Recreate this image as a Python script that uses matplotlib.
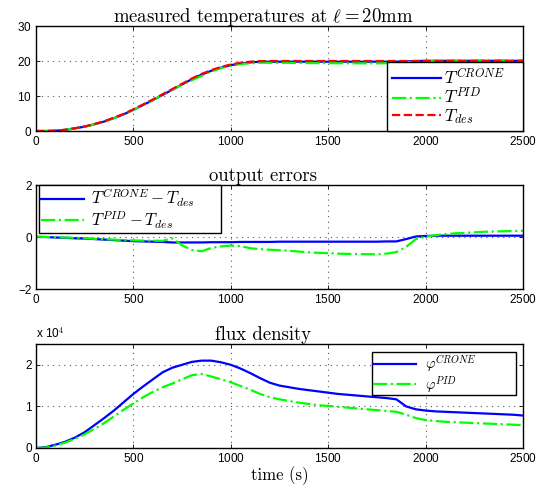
import matplotlib
matplotlib.use("Agg")
import matplotlib.pyplot as plt
from matplotlib.ticker import FuncFormatter

# ---------------- data ----------------
t = [0, 50, 100, 150, 200, 250, 300, 350, 400, 450, 500, 550, 600, 650, 700,
     750, 800, 850, 900, 950, 1000, 1050, 1100, 1150, 1200, 1250, 1300, 1350,
     1400, 1450, 1500, 1550, 1600, 1650, 1700, 1750, 1800, 1850, 1900, 1950,
     2000, 2050, 2100, 2150, 2200, 2250, 2300, 2350, 2400, 2450, 2500]

T_des = [0, 0, 0.1, 0.35, 0.8, 1.3, 2.0, 2.8, 3.8, 4.9, 6.2, 7.6, 9.0, 10.5, 12.0,
         13.5, 15.0, 16.3, 17.4, 18.3, 19.0, 19.5, 19.8, 19.95, 20.0, 20.0, 20.0, 20.0,
         20.0, 20.0, 20.0, 20.0, 20.0, 20.0, 20.0, 20.0, 20.0, 20.0, 20.0, 20.0,
         20.0, 20.0, 20.0, 20.0, 20.0, 20.0, 20.0, 20.0, 20.0, 20.0, 20.0]

T_crone = [0, 0, 0.08, 0.32, 0.75, 1.24, 1.92, 2.7, 3.68, 4.76, 6.04, 7.43, 8.82, 10.3, 11.8,
           13.3, 14.8, 16.1, 17.2, 18.1, 18.8, 19.3, 19.6, 19.8, 19.8, 19.8, 19.8, 19.8,
           19.8, 19.8, 19.8, 19.8, 19.8, 19.8, 19.8, 19.8, 19.8, 19.8, 19.9, 20.0,
           20.05, 20.05, 20.05, 20.05, 20.05, 20.05, 20.05, 20.05, 20.05, 20.05, 20.05]

T_pid = [0, 0, 0.09, 0.33, 0.77, 1.25, 1.93, 2.71, 3.7, 4.78, 6.07, 7.46, 8.86, 10.35, 11.9,
         13.2, 14.5, 15.75, 17.0, 17.95, 18.65, 19.15, 19.35, 19.5, 19.5, 19.5, 19.47, 19.44,
         19.41, 19.39, 19.38, 19.36, 19.35, 19.34, 19.34, 19.33, 19.36, 19.42, 19.62, 19.92,
         20.01, 20.07, 20.11, 20.14, 20.16, 20.18, 20.2, 20.21, 20.22, 20.23, 20.24]

err_crone = [0, 0, -0.02, -0.03, -0.05, -0.06, -0.08, -0.1, -0.12, -0.14, -0.16, -0.17, -0.18, -0.19, -0.21,
             -0.21, -0.21, -0.21, -0.2, -0.2, -0.2, -0.19, -0.19, -0.19, -0.19, -0.18, -0.18, -0.18,
             -0.18, -0.18, -0.18, -0.18, -0.18, -0.18, -0.18, -0.18, -0.17, -0.17, -0.08, 0.02,
             0.04, 0.05, 0.05, 0.05, 0.05, 0.05, 0.05, 0.05, 0.05, 0.05, 0.05]

err_pid = [0.02, 0.0, -0.01, -0.02, -0.03, -0.05, -0.07, -0.09, -0.1, -0.12, -0.13, -0.14, -0.14, -0.15, -0.05,
           -0.32, -0.5, -0.55, -0.42, -0.36, -0.33, -0.35, -0.43, -0.47, -0.49, -0.51, -0.53, -0.56,
           -0.59, -0.61, -0.62, -0.64, -0.65, -0.66, -0.66, -0.67, -0.64, -0.58, -0.38, -0.08,
           0.01, 0.07, 0.11, 0.14, 0.16, 0.18, 0.2, 0.21, 0.22, 0.23, 0.24]

phi_crone = [0, 200, 800, 1500, 2500, 3800, 5500, 7200, 9000, 11000, 13000, 14800, 16500, 18200, 19300,
             20000, 20700, 21000, 21000, 20600, 20000, 19100, 18000, 16800, 15700, 15000, 14600, 14200,
             13900, 13600, 13300, 13000, 12800, 12600, 12400, 12200, 12000, 11700, 10000, 9300,
             9000, 8800, 8700, 8600, 8500, 8400, 8300, 8200, 8100, 8000, 7800]

phi_pid = [0, 100, 600, 1300, 2200, 3300, 4600, 6000, 7600, 9200, 10700, 12200, 13500, 14600, 15500,
           16500, 17500, 17800, 17200, 16500, 15800, 14900, 14000, 13000, 12200, 11700, 11300, 10900,
           10600, 10300, 10100, 9900, 9700, 9500, 9300, 9100, 8900, 8700, 8000, 7200,
           6700, 6500, 6300, 6200, 6100, 6000, 5900, 5800, 5700, 5600, 5500]

xticks = [0, 500, 1000, 1500, 2000, 2500]
yticks_T = [0, 10, 20, 30]
yticks_err = [-2, 0, 2]
yticks_phi = [0, 10000, 20000]

# ---------------- style ----------------
plt.rcParams['mathtext.fontset'] = 'cm'
plt.rcParams['font.family'] = ['Liberation Sans', 'DejaVu Sans']
plt.rcParams['axes.formatter.use_mathtext'] = True

BLUE = (0, 0, 1)
GREEN = (0, 1, 0)
RED = (1, 0, 0)
TICKFS = 8.5
TITLEFS = 13.5
AXW, AXH = 487, 104
TITLE_X = (263 - 36) / AXW

fig = plt.figure(figsize=(5.49, 5.0), dpi=100)
L, W = 36 / 549, AXW / 549
ax1 = fig.add_axes([L, 1 - 131 / 500, W, 105 / 500])
ax2 = fig.add_axes([L, 1 - 289 / 500, W, 104 / 500])
ax3 = fig.add_axes([L, 1 - 448 / 500, W, 104 / 500])


def style(ax, yticks, ylim):
    ax.set_xlim(0, 2500)
    ax.set_ylim(*ylim)
    ax.set_xticks(xticks)
    ax.set_yticks(yticks)
    ax.tick_params(direction='in', length=3, width=0.6, labelsize=TICKFS,
                   top=True, right=True, pad=3)
    ax.grid(True, linestyle=(0, (1, 4)), color='0.35', linewidth=0.8)
    for s in ax.spines.values():
        s.set_linewidth(1.0)
        s.set_color('black')


def title(ax, s):
    ax.set_title(s, family='cmr10', fontsize=TITLEFS, pad=3, x=TITLE_X)


def leg(ax, loc, **kw):
    lg = ax.legend(loc=loc, fancybox=False, framealpha=1, mode='expand',
                   edgecolor='black', borderaxespad=0, **kw)
    lg.get_frame().set_linewidth(1.0)
    return lg


# top
ax1.plot(t, T_crone, color=BLUE, lw=1.6, label=r'$T^{CRONE}$')
ax1.plot(t, T_pid, color=GREEN, lw=1.6, ls='-.', label=r'$T^{PID}$')
ax1.plot(t, T_des, color=RED, lw=1.6, ls='--', label=r'$T_{des}$')
style(ax1, yticks_T, (0, 30))
title(ax1, r'measured temperatures at $\ell = 20$mm')
leg(ax1, 'lower right', fontsize=12.5, labelspacing=0.0, borderpad=0.3,
    handlelength=2.8, handletextpad=0.2,
    bbox_to_anchor=(351 / AXW, 0, 136 / AXW, 1))

# middle
ax2.plot(t, err_crone, color=BLUE, lw=1.6, label=r'$T^{CRONE} - T_{des}$')
ax2.plot(t, err_pid, color=GREEN, lw=1.6, ls='-.', label=r'$T^{PID} - T_{des}$')
style(ax2, yticks_err, (-2, 2))
ax2.set_yticklabels(['\u22122', '0', '2'])
title(ax2, 'output errors')
leg(ax2, 'upper left', fontsize=12, labelspacing=0.0, borderpad=0.12,
    handlelength=2.6, handletextpad=0.4,
    bbox_to_anchor=(3 / AXW, 0, 182 / AXW, 1))

# bottom
ax3.plot(t, phi_crone, color=BLUE, lw=1.6, label=r'$\varphi^{CRONE}$')
ax3.plot(t, phi_pid, color=GREEN, lw=1.6, ls='-.', label=r'$\varphi^{PID}$')
style(ax3, yticks_phi, (0, 25000))
ax3.yaxis.set_major_formatter(FuncFormatter(lambda v, p: '%g' % (v / 1e4)))
title(ax3, 'flux density')
ax3.set_xlabel('time (s)', family='cmr10', fontsize=12, labelpad=1)
ax3.text(0, 1.03, r'x 10$^{4}$', transform=ax3.transAxes, fontsize=TICKFS,
         ha='left', va='bottom')
leg(ax3, 'upper right', fontsize=10.5, labelspacing=0.0, borderpad=0.05,
    handlelength=3.0, handletextpad=0.6,
    bbox_to_anchor=(336 / AXW, 0, 144 / AXW, 1 - 8 / AXH))

fig.savefig('out.png', dpi=100)
